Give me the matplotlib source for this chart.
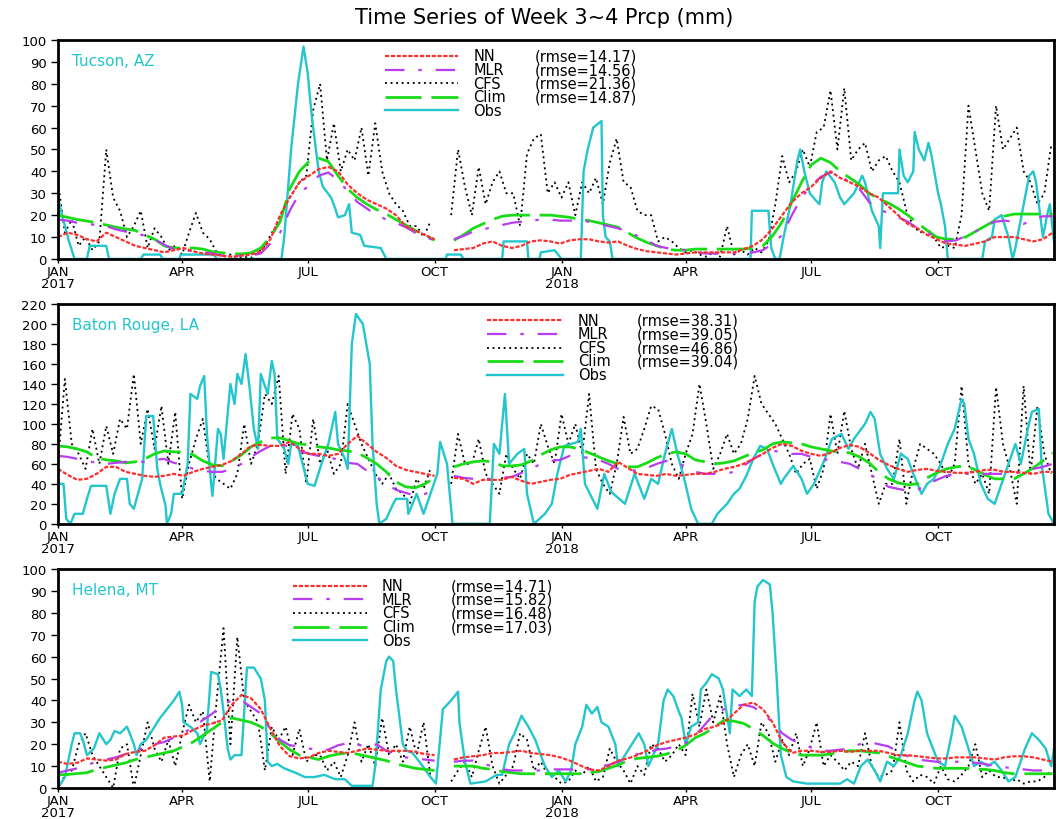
import numpy as np
import matplotlib.pyplot as plt

plt.rcParams['font.family'] = 'DejaVu Sans'
plt.rcParams['lines.scale_dashes'] = False

nan = np.nan

# ===== TIME AXES =====
start = np.datetime64('2017-01-01')
week_days = np.arange(104) * 7      # NN / MLR / Clim, one value per week
cfs_days = np.arange(145) * 5       # CFS, one value every 5 days

tick_dates = ['2017-01-01', '2017-04-01', '2017-07-01', '2017-10-01',
              '2018-01-01', '2018-04-01', '2018-07-01', '2018-10-01']
tick_labels = ['JAN\n2017', 'APR', 'JUL', 'OCT', 'JAN\n2018', 'APR', 'JUL', 'OCT']

# ===== TUCSON, AZ =====
tuc_nn = [10, 12, 11, 9, 8, 12, 10, 8, 6, 5,
          4, 3, 4, 5, 3.5, 2.5, 2, 1.5, 1, 1.5,
          2, 3.5, 9, 20, 28, 35, 38, 41, 42, 40,
          34, 30, 27, 25, 23, 20, 15, 13, 11, 9,
          nan, 4, 4.5, 5, 7, 8, 6, 5, 6, 8,
          8.5, 8, 7, 8.5, 9, 9, 8, 7.5, 8, 6,
          4.5, 3.5, 3, 2.5, 2, 2.5, 3, 3, 3, 3,
          3, 4.5, 6, 9, 14, 20, 26, 30, 33, 37,
          40, 37, 35, 33, 30, 28, 24, 20, 16, 14,
          11, 9, 7, 6.5, 6, 7, 8, 10, 10, 10,
          9, 8, 9, 12]
tuc_mlr = [18, 17.5, 16.5, 16, 15.5, 15, 13.5, 12.5, 12, 10.5,
           9, 6.5, 4.5, 4, 3.5, 3, 2.5, 1.5, 1.5, 1.5,
           1.5, 2.5, 7, 12, 22, 30, 33.5, 38, 39.5, 36,
           31, 26, 23, 20, 18, 16.5, 14.5, 12, 10, 8.5,
           nan, 9, 10.5, 12.5, 13.5, 14.5, 15.5, 16.5, 17, 17.5,
           18, 18, 17.5, 17.5, 17.5, 17, 16, 15, 14, 12.5,
           10.5, 8.5, 6, 5, 4.5, 4, 3, 2.5, 2.5, 2.5,
           2.5, 2.5, 3, 4, 7, 11, 20, 28, 33.5, 37.5,
           39.5, 38, 35, 32, 26, 22.5, 21, 19, 17, 14,
           12, 10, 8, 8.5, 10.5, 12.5, 15, 17, 17.5, 17,
           16, 18, 19.5, 19.5]
tuc_clim = [20, 19, 18, 17.3, 16.5, 15.5, 14.5, 13.7, 13, 11,
            9, 6, 5, 5, 5, 4.5, 3.3, 2.8, 2.4, 2.3,
            2.8, 5, 10, 17, 32, 40, 44.5, 46, 44.5, 38,
            32, 28, 25, 22.5, 20.5, 18, 15.5, 13, 11, 8.5,
            nan, 8.5, 11, 14, 16, 18, 19.5, 20, 20, 20,
            20, 20, 19.5, 19, 18, 17.5, 16.5, 15.5, 14.5, 12,
            9.5, 7.5, 6, 4.5, 4, 4, 4.5, 4.5, 4.5, 4.5,
            4.5, 4.5, 5, 6, 10.5, 17, 26, 35, 43, 46,
            44, 40, 37, 34, 30, 27.5, 25.5, 23, 20, 16.5,
            13, 10, 9, 9, 10, 12.5, 15, 17.5, 19.5, 20.5,
            20.5, 20.5, 20.5, 20.5]
tuc_cfs = [35, 12, 18, 6, 10, 4, 8, 50, 28, 22,
           10, 15, 22, 5, 14, 10, 4, 6, 2, 12,
           21, 12, 9, 3, 1, 2, 0.5, 1, 0.5, 3,
           6, 12, 16, 25, 30, 35, 38, 68, 80, 45,
           62, 40, 50, 45, 60, 38, 62, 40, 30, 25,
           22, 15, 15, 10, 17, nan, nan, 20, 50, 33,
           20, 42, 25, 35, 40, 30, 30, 15, 48, 55,
           57, 30, 35, 28, 35, 20, 35, 30, 37, 25,
           44, 55, 35, 33, 22, 20, 20, 8, 10, 8,
           5, 3, 4, 2, 1, 3, 1, 15, 2, 4,
           2, 5, 3, 8, 25, 47, 35, 40, 50, 42,
           58, 60, 77, 50, 78, 45, 50, 53, 40, 45,
           47, 40, 35, 22, 15, 12, 14, 10, 5, 6,
           5, 20, 70, 50, 30, 22, 70, 50, 55, 60,
           40, 35, 25, 30, 52]
tuc_obs_day = [0, 3, 8, 12, 21, 23, 35, 37, 60, 62, 74, 76, 88, 89, 113, 115,
               162, 164, 169, 174, 178, 181, 184, 189, 192, 198, 201, 203, 208,
               211, 213, 219, 222, 234, 238, 281, 282, 292, 294, 322, 323, 340,
               341, 349, 350, 360, 365, 379, 381, 384, 388, 392, 394, 395, 397,
               400, 402, 502, 503, 515, 517, 520, 523, 526, 531, 536, 538, 541,
               545, 549, 552, 554, 557, 563, 567, 570, 577, 583, 585, 590, 595,
               596, 598, 609, 610, 613, 616, 620, 621, 624, 628, 631, 633, 638,
               640, 643, 645, 670, 672, 677, 679, 684, 689, 692, 694, 697, 704,
               707, 709, 712, 714, 717, 719, 722]
tuc_obs = [28, 20, 8, 0, 0, 6, 6, 0, 0, 2, 2, 0, 0, 2, 2, 0,
           0, 10, 50, 80, 97, 85, 65, 40, 33, 28, 23, 19, 20,
           25, 12, 11, 6, 5, 0, 0, 2, 2, 0, 0, 8, 8,
           0, 0, 3, 4, 0, 0, 40, 50, 60, 62, 63, 20, 10,
           8, 0, 0, 22, 22, 5, 0, 0, 10, 25, 45, 50, 40,
           30, 27, 25, 35, 40, 35, 28, 25, 30, 38, 35, 22, 15,
           5, 30, 30, 50, 38, 35, 40, 58, 50, 45, 53, 48, 30,
           25, 15, 0, 0, 8, 10, 18, 20, 10, 0, 5, 15, 38,
           40, 35, 20, 10, 20, 25, 8]
tuc_rmse = [14.17, 14.56, 21.36, 14.87]

# ===== BATON ROUGE, LA =====
br_nn = [55, 49, 44, 45, 50, 57, 57, 52, 50, 48,
         47, 48, 50, 48, 52, 55, 57, 59, 63, 70,
         78, 79, 78, 78, 82, 75, 70, 70, 68, 70,
         80, 88, 80, 72, 66, 58, 54, 52, 50, 48,
         nan, 46, 45, 40, 44, 44, 44, 47, 43, 40,
         42, 44, 45, 49, 51, 53, 55, 52, 62, 56,
         50, 49, 48, 50, 48, 49, 50, 50, 52, 55,
         57, 60, 65, 70, 76, 80, 78, 73, 70, 68,
         71, 76, 79, 77, 71, 64, 59, 55, 52, 54,
         55, 53, 52, 51, 51, 52, 54, 54, 52, 52,
         51, 50, 52, 52]
br_mlr = [68, 67, 65, 63, 61, 60, 61, 62, 62, 62,
          64, 65, 61, 59, 55, 53, 52, 52, 55, 60,
          67, 73, 78, 80, 77, 73, 70, 68, 67, 64,
          61, 60, 53, 47, 40, 34, 31, 28, 30, 33,
          nan, 48, 46, 45, 45, 45, 46, 47, 51, 55,
          60, 63, 64, 68, 67, 66, 64, 60, 55, 54,
          53, 56, 60, 63, 62, 57, 52, 50, 50, 50,
          52, 58, 65, 70, 73, 72, 70, 70, 67, 66,
          63, 62, 60, 55, 50, 44, 37, 35, 33, 34,
          39, 44, 48, 50, 50, 50, 50, 50, 50, 51,
          52, 55, 57, 60]
br_clim = [78, 77, 75, 72, 66, 64, 63, 61, 62, 65,
           70, 73, 72, 72, 69, 63, 59, 58, 63, 69,
           77, 82, 86, 86, 83, 80, 79, 77, 76, 74,
           73, 71, 66, 60, 52, 42, 37, 36, 40, 46,
           nan, 57, 60, 62, 63, 62, 58, 58, 59, 63,
           69, 74, 77, 77, 75, 71, 67, 63, 60, 57,
           57, 61, 66, 70, 72, 70, 64, 62, 60, 61,
           63, 67, 71, 74, 80, 82, 81, 80, 77, 75,
           73, 72, 71, 67, 61, 52, 45, 41, 39, 40,
           46, 51, 55, 57, 58, 54, 49, 45, 45, 45,
           50, 56, 63, 71]
br_cfs = [60, 145, 80, 70, 55, 95, 60, 98, 70, 105,
          95, 150, 80, 115, 75, 118, 60, 112, 25, 60,
          85, 105, 55, 45, 40, 35, 50, 100, 60, 80,
          130, 120, 148, 50, 110, 95, 40, 105, 60, 75,
          50, 60, 120, 100, 80, 65, 50, 40, 50, 35,
          30, 20, 45, 35, 55, nan, nan, 40, 90, 60,
          60, 85, 50, 40, 30, 70, 55, 45, 70, 60,
          100, 78, 60, 110, 80, 100, 70, 130, 55, 40,
          30, 60, 107, 70, 75, 95, 118, 115, 90, 60,
          45, 70, 90, 140, 100, 55, 70, 90, 70, 80,
          105, 148, 120, 110, 100, 85, 70, 50, 60, 65,
          35, 55, 110, 70, 113, 75, 55, 80, 50, 20,
          40, 40, 85, 20, 55, 80, 75, 70, 60, 45,
          60, 138, 60, 40, 50, 30, 137, 80, 55, 20,
          138, 50, 118, 70, 50]
br_obs_day = [0, 4, 6, 9, 12, 18, 21, 24, 35, 38, 41, 45, 50, 52, 55, 57, 61,
              64, 69, 72, 74, 78, 79, 82, 84, 90, 94, 96, 101, 103, 106, 108,
              111, 112, 116, 118, 120, 125, 128, 130, 133, 136, 139, 142, 145,
              147, 152, 155, 157, 159, 164, 167, 169, 174, 181, 186, 191, 196,
              201, 203, 208, 210, 213, 216, 221, 226, 228, 231, 233, 238, 243,
              245, 253, 254, 260, 265, 270, 275, 277, 282, 286, 313, 316, 320,
              324, 327, 333, 338, 340, 345, 353, 358, 362, 367, 377, 379, 382,
              391, 396, 401, 411, 418, 425, 430, 435, 440, 445, 449, 454, 459,
              464, 474, 478, 485, 490, 494, 499, 504, 509, 514, 518, 524, 526,
              533, 539, 543, 548, 556, 561, 568, 573, 577, 585, 589, 592, 596,
              601, 606, 611, 616, 620, 626, 630, 635, 640, 645, 650, 655, 657,
              660, 664, 669, 674, 679, 684, 689, 694, 698, 703, 706, 711, 713,
              718, 722]
br_obs = [40, 40, 5, 0, 10, 10, 25, 38, 38, 10, 30, 45, 45, 20, 15, 25, 45,
          108, 108, 55, 40, 18, 0, 10, 30, 30, 60, 130, 125, 138, 148, 90,
          40, 28, 95, 90, 65, 140, 120, 150, 140, 170, 135, 95, 75,
          150, 130, 163, 150, 85, 75, 60, 80, 78, 40, 38, 60, 80,
          112, 80, 65, 55, 180, 210, 200, 160, 80, 20, 0, 5, 20,
          25, 25, 10, 30, 10, 30, 50, 82, 60, 0, 0, 80, 70,
          130, 60, 70, 75, 30, 0, 10, 20, 50, 78, 82, 95, 40,
          15, 50, 32, 20, 50, 25, 45, 40, 70, 95, 70, 45, 15,
          0, 0, 10, 20, 30, 35, 48, 65, 78, 75, 60, 40, 45,
          58, 45, 30, 40, 65, 85, 90, 75, 85, 100, 112, 105, 70,
          55, 45, 70, 65, 50, 30, 40, 45, 60, 80, 95, 125, 120,
          85, 70, 40, 25, 20, 40, 60, 80, 60, 95, 112, 115, 60,
          10, 0]
br_rmse = [38.31, 39.05, 46.86, 39.04]

# ===== HELENA, MT =====
hel_nn = [12, 11, 11.5, 13.5, 13, 12.5, 13, 15.5, 16.5, 17,
          19.5, 23, 23.5, 24, 26.5, 28.5, 29.5, 31, 38, 42.5,
          41, 36, 27, 19, 14.5, 13.5, 14, 16, 17, 16.5,
          16, 17, 18, 17.5, 17, 17, 17, 16.5, 15.5, 15,
          nan, 13, 14, 14.5, 15, 16, 16, 16.5, 17, 16,
          15.5, 15, 14, 12.5, 10.5, 8.5, 8, 10, 12.5, 13.5,
          15, 17, 19.5, 21, 22, 23, 24.5, 27, 28, 30,
          34, 38, 39, 36, 30, 21, 16, 17, 17, 16.5,
          16.5, 17, 16.5, 17, 17, 17, 16, 15, 15, 14.5,
          14, 13.5, 13.5, 14, 14, 14, 13.5, 13, 14, 14.5,
          14.5, 14, 13, 12]
hel_mlr = [7, 8, 9, 10.5, 12, 13, 14, 15.5, 17, 18.5,
           20, 21, 23, 25, 28, 31, 34, 38, 40, 40,
           37, 34, 27, 22, 19.5, 19, 18, 17.5, 17.5, 19.5,
           20.5, 20, 18.5, 20, 17, 15.5, 14, 13.5, 13, 12.5,
           nan, 12, 12.5, 12.5, 11, 10, 8.5, 8, 8, 8,
           8, 8.5, 8.5, 8.5, 8.5, 8.5, 9.5, 10.5, 12, 14,
           15.5, 16, 17.5, 18, 19, 20.5, 24, 29, 34, 36,
           37.5, 38, 37, 34, 30, 25, 22, 20, 18.5, 17,
           17, 17.5, 18, 20, 21, 20, 19, 16.5, 14.5, 13,
           12.5, 12, 12, 12, 12, 11.5, 11, 10, 9.5, 9,
           8.5, 8, 8, 8]
hel_clim = [6, 6.2, 6.6, 7, 8.5, 9.5, 10.5, 11.5, 13, 14,
            15, 16, 17, 19, 21, 24, 27, 30, 32, 31,
            30, 28, 25, 21, 17.5, 15, 14, 13, 14.5, 15.5,
            16, 15.5, 14.5, 13.5, 12.5, 11, 10, 9, 8.5, 8,
            nan, 10, 10, 10, 9, 8.5, 7.5, 7, 6.5, 6.5,
            6.5, 6.5, 6.5, 6.5, 6.5, 7, 7.5, 9, 10.5, 12.5,
            13.5, 14, 14.5, 15.5, 17, 19.5, 23, 25, 28, 31,
            30.5, 29.5, 27, 24, 20.5, 18, 16, 15, 15, 15,
            15.5, 16.5, 17, 17, 16.5, 16, 14.5, 13, 11.5, 10,
            9.5, 9, 9, 9, 9, 8.5, 8.5, 8, 7, 6.5,
            6.5, 6.5, 6.5, 6.5]
hel_cfs = [3, 5, 8, 20, 25, 15, 10, 5, 0, 18,
           20, 0, 15, 30, 18, 12, 22, 10, 25, 38,
           30, 35, 3, 40, 73, 20, 69, 40, 35, 30,
           8, 28, 22, 28, 15, 27, 12, 15, 15, 8,
           12, 5, 15, 30, 12, 20, 10, 32, 15, 20,
           12, 28, 15, 30, 5, nan, nan, 3, 8, 12,
           5, 17, 28, 10, 2, 6, 10, 25, 22, 8,
           12, 6, 5, 2, 3, 8, 6, 10, 3, 5,
           18, 12, 8, 2, 10, 6, 20, 18, 12, 15,
           20, 15, 43, 28, 45, 30, 42, 20, 5, 15,
           20, 10, 30, 25, 12, 22, 15, 25, 10, 18,
           30, 10, 15, 12, 8, 12, 10, 25, 10, 5,
           6, 8, 30, 8, 3, 6, 5, 2, 10, 4,
           3, 6, 10, 20, 5, 8, 5, 5, 3, 4,
           2, 3, 3, 5, 8]
hel_obs_day = [0, 5, 10, 12, 16, 18, 21, 26, 30, 35, 38, 41, 45, 50, 52, 55,
               57, 60, 64, 69, 74, 79, 84, 88, 90, 91, 96, 101, 103, 108, 111,
               116, 118, 120, 123, 125, 128, 133, 137, 142, 147, 150, 152, 155,
               159, 164, 172, 179, 186, 193, 201, 208, 213, 228, 230, 234, 238,
               240, 243, 245, 250, 253, 257, 262, 270, 274, 279, 285, 290, 291,
               295, 299, 310, 318, 322, 327, 331, 336, 341, 346, 350, 353, 358,
               363, 368, 372, 375, 380, 383, 387, 391, 394, 399, 404, 406, 411,
               416, 421, 425, 428, 435, 439, 442, 446, 450, 452, 455, 459, 464,
               466, 470, 474, 479, 482, 487, 489, 494, 499, 503, 505, 507, 511,
               516, 518, 521, 524, 528, 533, 543, 567, 572, 577, 582, 587, 592,
               596, 601, 606, 611, 616, 621, 623, 626, 630, 633, 638, 643, 648,
               650, 655, 660, 664, 669, 674, 679, 684, 689, 694, 701, 706, 711,
               716, 720, 723]
hel_obs = [0, 5, 20, 25, 25, 22, 15, 18, 25, 20, 22, 26, 25, 28, 25, 20,
           15, 20, 22, 27, 32, 36, 40, 44, 38, 30, 28, 25, 20, 27, 53,
           52, 45, 35, 18, 13, 15, 15, 55, 55, 50, 40, 12, 10,
           11, 9, 7, 5, 5, 6, 4, 4, 1, 1, 10, 45, 58,
           60, 58, 45, 20, 17, 16, 12, 5, 2, 36, 40, 44, 30,
           12, 2, 3, 6, 6, 20, 25, 33, 28, 22, 15, 10, 5,
           8, 3, 8, 20, 28, 38, 34, 37, 30, 28, 20, 10, 15,
           20, 25, 20, 10, 20, 40, 45, 42, 35, 32, 20, 28, 30,
           45, 48, 52, 50, 45, 25, 45, 42, 45, 42, 85, 92, 95,
           93, 80, 50, 15, 5, 3, 2, 2, 4, 2, 10, 13, 8,
           3, 12, 10, 15, 25, 40, 44, 40, 25, 20, 12, 10, 25,
           33, 28, 18, 10, 12, 10, 12, 8, 3, 5, 18, 25, 22,
           18, 10, 22]
hel_rmse = [14.71, 15.82, 16.48, 17.03]

# ===== STYLES =====
model_names = ['NN', 'MLR', 'CFS', 'Clim', 'Obs']
styles = {
    'NN':   dict(color='#ff2e2e', lw=1.6, dashes=(3.0, 1.2)),
    'MLR':  dict(color='#b83cf0', lw=1.6, dashes=(14, 10, 2.5, 10)),
    'CFS':  dict(color='black', lw=1.3, dashes=(1.4, 2.6)),
    'Clim': dict(color='#18dc18', lw=2.0, dashes=(26, 7)),
    'Obs':  dict(color='#22c6cc', lw=1.7, linestyle='-'),
}

panels = [
    dict(name='Tucson, AZ', nn=tuc_nn, mlr=tuc_mlr, clim=tuc_clim, cfs=tuc_cfs,
         obs_day=tuc_obs_day, obs=tuc_obs, rmse=tuc_rmse,
         ymax=100, ystep=10, rect=[0.0549, 0.683, 0.9432, 0.267],
         key=(0.328, 0.402, 0.417, 0.479), key_y=[0.927, 0.865, 0.803, 0.741, 0.679]),
    dict(name='Baton Rouge, LA', nn=br_nn, mlr=br_mlr, clim=br_clim, cfs=br_cfs,
         obs_day=br_obs_day, obs=br_obs, rmse=br_rmse,
         ymax=220, ystep=20, rect=[0.0549, 0.360, 0.9432, 0.268],
         key=(0.431, 0.507, 0.522, 0.581), key_y=[0.926, 0.864, 0.802, 0.741, 0.679]),
    dict(name='Helena, MT', nn=hel_nn, mlr=hel_mlr, clim=hel_clim, cfs=hel_cfs,
         obs_day=hel_obs_day, obs=hel_obs, rmse=hel_rmse,
         ymax=100, ystep=10, rect=[0.0549, 0.0378, 0.9432, 0.267],
         key=(0.236, 0.310, 0.325, 0.394), key_y=[0.924, 0.862, 0.800, 0.737, 0.676]),
]

# ===== PLOT =====
fig = plt.figure(figsize=(10.56, 8.2), dpi=100)
fig.text(0.515, 0.978, 'Time Series of Week 3~4 Prcp (mm)',
         ha='center', va='center', fontsize=15)

wk_dates = start + week_days
cfs_dates = start + cfs_days

for p in panels:
    ax = fig.add_axes(p['rect'])
    obs_dates = start + np.array(p['obs_day'])

    ax.plot(cfs_dates, p['cfs'], **styles['CFS'])
    ax.plot(obs_dates, p['obs'], **styles['Obs'])
    ax.plot(wk_dates, p['clim'], **styles['Clim'])
    ax.plot(wk_dates, p['mlr'], **styles['MLR'])
    ax.plot(wk_dates, p['nn'], **styles['NN'])

    ax.set_xlim(start, start + 722)
    ax.set_ylim(0, p['ymax'])
    ax.set_yticks(np.arange(0, p['ymax'] + 1, p['ystep']))
    ax.set_xticks(np.array(tick_dates, dtype='datetime64[D]'))
    ax.set_xticklabels(tick_labels, linespacing=0.85)
    ax.tick_params(axis='y', direction='out', length=5, width=1, pad=3,
                   labelsize=9.5, right=False)
    ax.tick_params(axis='x', direction='out', length=3, width=1, pad=1.5,
                   labelsize=9.5, top=False)
    for s in ax.spines.values():
        s.set_linewidth(2.0)

    ax.text(0.014, 0.905, p['name'], transform=ax.transAxes, color='#22c6cc',
            fontsize=11, ha='left', va='center')

    # key: line sample, model name, rmse
    x0, x1, xt, xr = p['key']
    for i, m in enumerate(model_names):
        y = p['key_y'][i]
        ax.plot([x0, x1], [y, y], transform=ax.transAxes, clip_on=False, **styles[m])
        ax.text(xt, y, m, transform=ax.transAxes, fontsize=10.5, ha='left', va='center')
        if i < 4:
            ax.text(xr, y, f'(rmse={p["rmse"][i]:.2f})', transform=ax.transAxes,
                    fontsize=10.5, ha='left', va='center')

plt.savefig('out.png', dpi=100)
